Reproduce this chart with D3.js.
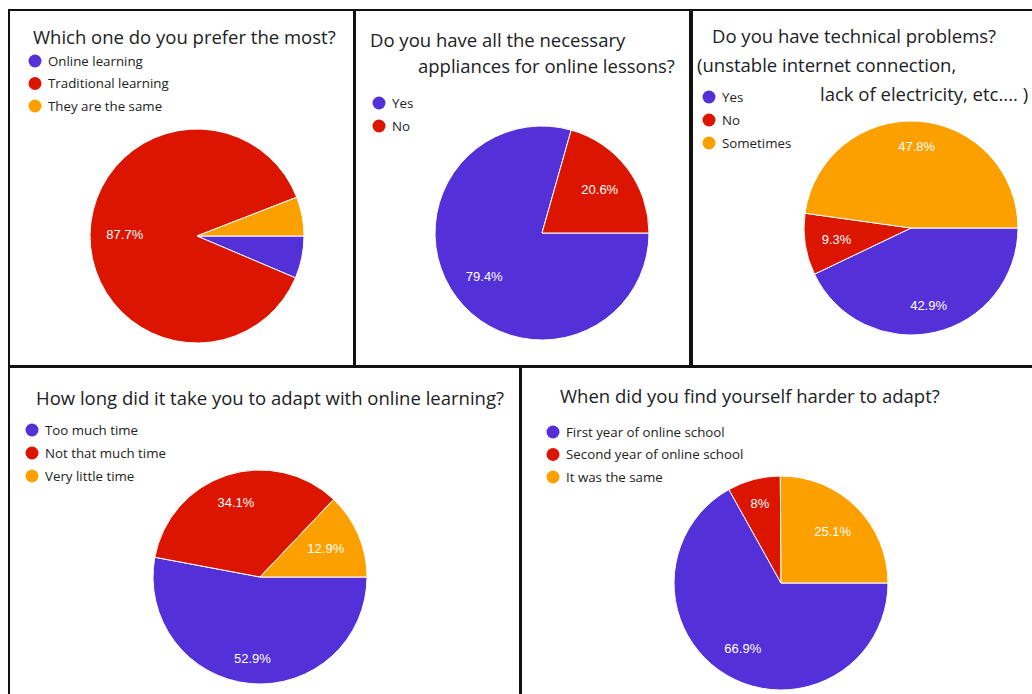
<!DOCTYPE html>
<html><head><meta charset="utf-8">
<script src="https://cdn.jsdelivr.net/npm/d3@7"></script>
<style>body{margin:0;background:#fff;overflow:hidden} svg{display:block}</style>
</head><body>
<svg id="c" width="1032" height="694"></svg>
<script>
// ---- data ----
const sliceColors = ["#5430d8", "#dc1500", "#fca000"];

const prefCategories = ["Online learning", "Traditional learning", "They are the same"];
const prefValues = [6.4, 87.7, 5.9];

const applianceCategories = ["Yes", "No"];
const applianceValues = [79.4, 20.6];

const techCategories = ["Yes", "No", "Sometimes"];
const techValues = [42.9, 9.3, 47.8];

const adaptTimeCategories = ["Too much time", "Not that much time", "Very little time"];
const adaptTimeValues = [52.9, 34.1, 12.9];

const harderCategories = ["First year of online school", "Second year of online school", "It was the same"];
const harderValues = [66.9, 8, 25.1];

const titles = [
  ["Which one do you prefer the most?"],
  ["Do you have all the necessary", "appliances for online lessons?"],
  ["Do you have technical problems?", "(unstable internet connection,", "lack of electricity, etc.... )"],
  ["How long did it take you to adapt with online learning?"],
  ["When did you find yourself harder to adapt?"]
];

// ---- layout ----
const panels = [
  {cats: prefCategories, vals: prefValues, title: titles[0],
   titlePos: [[33, 44]], legend: [35, 61, 22.5], center: [197, 236]},
  {cats: applianceCategories, vals: applianceValues, title: titles[1],
   titlePos: [[370, 47], [418, 73]], legend: [379, 103, 23], center: [542, 233]},
  {cats: techCategories, vals: techValues, title: titles[2],
   titlePos: [[712, 43], [697, 72], [820, 101]], legend: [709, 97, 23], center: [911, 228]},
  {cats: adaptTimeCategories, vals: adaptTimeValues, title: titles[3],
   titlePos: [[36, 405]], legend: [32, 430, 23], center: [260, 577]},
  {cats: harderCategories, vals: harderValues, title: titles[4],
   titlePos: [[560, 403]], legend: [553, 432, 22.5], center: [781, 583]}
];
const radius = 107;

const svg = d3.select("#c");

// panel borders
const borders = svg.append("g").attr("stroke", "#111").attr("stroke-width", 2).attr("fill", "none");
[[9, 10, 354, 366], [355, 10, 690, 366], [692, 10, 1040, 366], [9, 367, 520, 700], [521, 367, 1040, 700]]
  .forEach(([x0, y0, x1, y1]) => {
    borders.append("rect").attr("x", x0).attr("y", y0).attr("width", x1 - x0).attr("height", y1 - y0);
  });

const pie = d3.pie().sort(null).value(d => d)
  .startAngle(Math.PI / 2).endAngle(Math.PI / 2 + 2 * Math.PI);
const arc = d3.arc().innerRadius(0).outerRadius(radius);
const fmt = v => (Math.round(v * 10) / 10) + "%";

panels.forEach(p => {
  const g = svg.append("g");
  // title
  p.title.forEach((line, i) => {
    g.append("text").attr("x", p.titlePos[i][0]).attr("y", p.titlePos[i][1])
      .attr("font-family", "'Open Sans', Roboto, sans-serif").attr("font-size", 18.5)
      .attr("fill", "#202124").text(line);
  });
  // legend
  const [lx, ly, lstep] = p.legend;
  p.cats.forEach((c, i) => {
    g.append("circle").attr("cx", lx).attr("cy", ly + i * lstep).attr("r", 6.5).attr("fill", sliceColors[i]);
    g.append("text").attr("x", lx + 13).attr("y", ly + i * lstep).attr("dy", "0.36em")
      .attr("font-family", "'Open Sans', Roboto, sans-serif").attr("font-size", 13.3).attr("fill", "#222").text(c);
  });
  // pie
  const pg = g.append("g").attr("transform", `translate(${p.center[0]},${p.center[1]})`);
  const arcs = pie(p.vals);
  pg.selectAll("path").data(arcs).join("path")
    .attr("d", arc).attr("fill", (d, i) => sliceColors[i])
    .attr("stroke", "#fff").attr("stroke-width", 1);
  // labels
  const Rout = radius * 0.85, h = 12;
  arcs.forEach((d, i) => {
    if (d.data < 7) return;
    const t = pg.append("text").attr("font-family", "Arial, 'Liberation Sans', sans-serif")
      .attr("font-size", 13).attr("fill", "#fff").attr("text-anchor", "middle")
      .attr("dy", "0.35em").text(fmt(d.data));
    const w = t.node().getComputedTextLength();
    const a = (d.startAngle + d.endAngle) / 2;
    const sx = Math.sin(a), sy = -Math.cos(a);
    const b = w * Math.abs(sx) + h * Math.abs(sy);
    const cc = (w * w + h * h) / 4 - Rout * Rout;
    const dist = (-b + Math.sqrt(b * b - 4 * cc)) / 2;
    t.attr("x", dist * sx).attr("y", dist * sy);
  });
});
</script>
</body></html>
